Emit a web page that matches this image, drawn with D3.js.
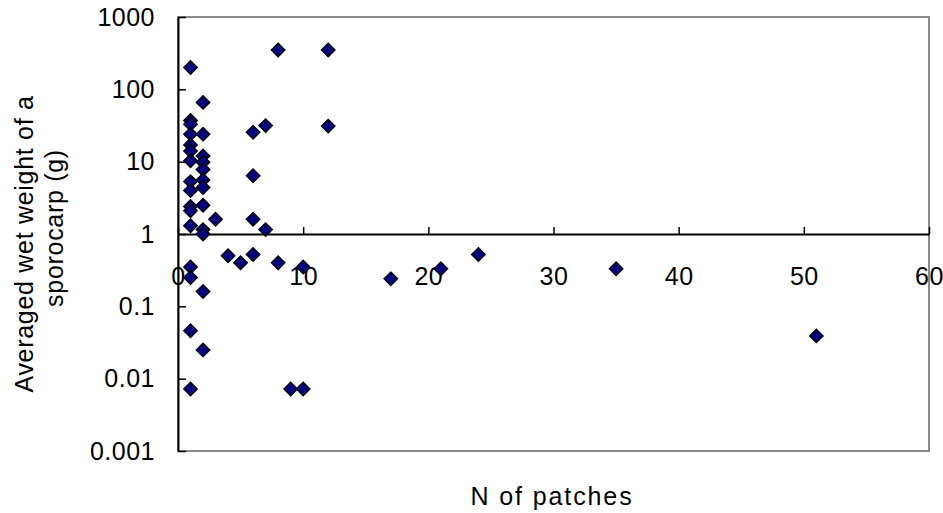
<!DOCTYPE html>
<html>
<head>
<meta charset="utf-8">
<script src="https://cdn.jsdelivr.net/npm/d3@7"></script>
<style>
  body { margin: 0; background: #fff; }
  svg { display: block; font-family: "Liberation Sans", Arial, sans-serif; }
</style>
</head>
<body>
<div id="chart"></div>
<script>
// number of patches vs averaged wet weight of a sporocarp (g)
const n_patches = [
    1, 8, 12, 2, 1, 1, 1, 2, 6, 7, 12,
    1, 1, 1, 2, 2, 2, 6, 1, 1, 2, 2,
    1, 1, 2, 3, 6, 1, 2, 2, 7,
    4, 5, 6, 8, 10, 1, 1, 2, 1, 2,
    1, 9, 10, 17, 21, 24, 35, 51
]
const wet_weight = [
    200, 350, 350, 66, 37, 33, 24, 24, 25.5, 31.5, 31,
    17, 14, 10.3, 12, 9.8, 7.8, 6.4, 5.3, 4.0, 5.6, 4.4,
    2.4, 2.1, 2.5, 1.6, 1.6, 1.3, 1.15, 1.0, 1.15,
    0.5, 0.4, 0.52, 0.4, 0.35, 0.35, 0.25, 0.16, 0.046, 0.025,
    0.0072, 0.0072, 0.0072, 0.24, 0.33, 0.52, 0.33, 0.039
]
const x_ticks = [0, 10, 20, 30, 40, 50, 60]
const y_ticks = [0.001, 0.01, 0.1, 1, 10, 100, 1000]
const x_title = "N of patches"
const y_title = ["Averaged wet weight of a", "sporocarp (g)"]

const width = 943
const height = 513
const plot_left = 178, plot_right = 929, plot_top = 17, plot_bottom = 451

const x = d3.scaleLinear().domain([0, 60]).range([plot_left, plot_right])
const y = d3.scaleLog().domain([0.001, 1000]).range([plot_bottom, plot_top])

const svg = d3.select("#chart")
    .append("svg")
    .attr("width", width)
    .attr("height", height)

// plot area border
svg.append("rect")
    .attr("x", plot_left)
    .attr("y", plot_top)
    .attr("width", plot_right - plot_left)
    .attr("height", plot_bottom - plot_top)
    .attr("fill", "none")
    .attr("stroke", "#8a8a8a")
    .attr("stroke-width", 2)

// x axis crosses at y = 1, ticks pointing up
const xAxis = svg.append("g")
    .attr("transform", `translate(0,${y(1)})`)
    .call(d3.axisBottom(x).tickValues(x_ticks).tickSize(-7).tickSizeOuter(0).tickPadding(33))
xAxis.select(".domain").attr("stroke", "#000").attr("stroke-width", 2)
xAxis.selectAll(".tick line").attr("stroke", "#000").attr("stroke-width", 1.5)
xAxis.selectAll(".tick text")
    .attr("font-size", 25)
    .attr("font-family", "Liberation Sans, Arial, sans-serif")
    .attr("letter-spacing", 0.5)
    .attr("fill", "#000")

// y axis, ticks pointing in
const yAxis = svg.append("g")
    .attr("transform", `translate(${plot_left},0)`)
    .call(d3.axisLeft(y).tickValues(y_ticks).tickFormat(d3.format("~g"))
        .tickSize(-8).tickSizeOuter(0).tickPadding(23))
yAxis.select(".domain").attr("stroke", "#000").attr("stroke-width", 2)
yAxis.selectAll(".tick line").attr("stroke", "#000").attr("stroke-width", 1.5)
yAxis.selectAll(".tick text")
    .attr("font-size", 25)
    .attr("font-family", "Liberation Sans, Arial, sans-serif")
    .attr("letter-spacing", 0.5)
    .attr("fill", "#000")

// titles
svg.append("text")
    .attr("x", 552)
    .attr("y", 505)
    .attr("text-anchor", "middle")
    .attr("font-size", 25)
    .attr("letter-spacing", 1.9)
    .text(x_title)

const yTitleCenters = [244, 228]
const yTitleBase = [33, 63]
y_title.forEach((line, i) => {
    svg.append("text")
        .attr("transform", `translate(${yTitleBase[i]},${yTitleCenters[i]}) rotate(-90)`)
        .attr("text-anchor", "middle")
        .attr("font-size", 25)
        .attr("letter-spacing", 0.7)
        .text(line)
})

// points
const diamond = d3.symbol().type(d3.symbolDiamond2).size(115)
svg.append("g")
    .selectAll("path")
    .data(d3.range(n_patches.length))
    .join("path")
    .attr("d", diamond)
    .attr("transform", i => `translate(${x(n_patches[i])},${y(wet_weight[i])})`)
    .attr("fill", "#000080")
    .attr("stroke", "#000")
    .attr("stroke-width", 1.4)
</script>
</body>
</html>
